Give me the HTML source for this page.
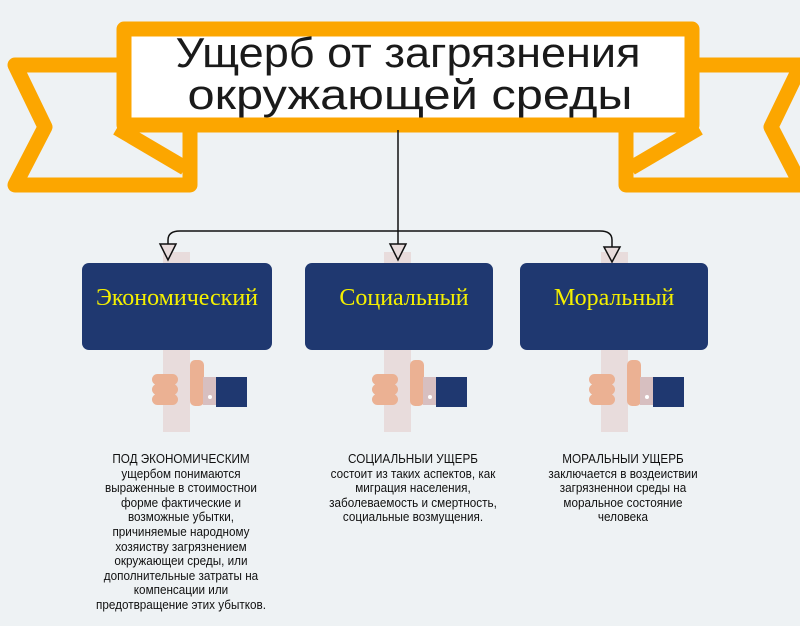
<!DOCTYPE html>
<html><head><meta charset="utf-8"><style>
body{margin:0;width:800px;height:626px;overflow:hidden;background:#eef2f4;}
svg{position:absolute;left:0;top:0}
.t{position:absolute;text-align:center;font-family:"Liberation Sans Narrow","Liberation Sans",sans-serif;font-size:13px;line-height:14.6px;color:#111;transform:scaleX(0.9);}
</style></head><body>
<svg width="800" height="626" viewBox="0 0 800 626">
<g fill="none" stroke="#fca600" stroke-width="15" stroke-linejoin="round">
<path d="M117,65 L15,65 L45,127 L15,185 L190,185 L190,130"/>
<path d="M117,128 L185,168"/>
<path d="M699,65 L801,65 L771,127 L801,185 L626,185 L626,130"/>
<path d="M699,128 L631,168"/>
</g>
<rect x="124" y="29" width="568" height="96" fill="#fff" stroke="#fca600" stroke-width="15" stroke-linejoin="round"/>
<text x="408" y="67" text-anchor="middle" font-family="Liberation Sans, sans-serif" font-size="42" fill="#1a1a1a" textLength="465" lengthAdjust="spacingAndGlyphs">Ущерб от загрязнения</text>
<text x="410" y="109" text-anchor="middle" font-family="Liberation Sans, sans-serif" font-size="42" fill="#1a1a1a" textLength="445" lengthAdjust="spacingAndGlyphs">окружающей среды</text>
<g fill="#e8dcdc">
<rect x="163" y="252" width="27" height="180"/>
<rect x="384" y="252" width="27" height="180"/>
<rect x="601" y="252" width="27" height="180"/>
</g>
<g fill="none" stroke="#111" stroke-width="1.5">
<path d="M398,130 L398,245"/>
<path d="M168,245 L168,240 Q168,231 180,231 L600,231 Q612,231 612,240 L612,247"/>
</g>
<g fill="#e8dcdc" stroke="#111" stroke-width="1.5">
<path d="M160,244 L176,244 L168,260 Z"/>
<path d="M390,244 L406,244 L398,260 Z"/>
<path d="M604,247 L620,247 L612,262 Z"/>
</g>
<g fill="#1f3870">
<rect x="82" y="263" width="190" height="87" rx="7"/>
<rect x="305" y="263" width="188" height="87" rx="7"/>
<rect x="520" y="263" width="188" height="87" rx="7"/>
</g>
<g font-family="Liberation Serif, serif" font-size="24" fill="#f4f000" text-anchor="middle">
<text x="177" y="305">Экономический</text>
<text x="404" y="305">Социальный</text>
<text x="614" y="305">Моральный</text>
</g>
<defs>
<g id="h">
<rect x="-25" y="374" width="26" height="11" rx="5.5" fill="#ebb193"/>
<rect x="-25" y="384" width="26" height="11" rx="5.5" fill="#ebb193"/>
<rect x="-25" y="394" width="26" height="11" rx="5.5" fill="#ebb193"/>
<rect x="13" y="360" width="14" height="46" rx="5" fill="#ebb193"/>
<rect x="26" y="377" width="14" height="28" fill="#d7bfc0"/>
<circle cx="33" cy="397" r="2" fill="#fff"/>
<rect x="39" y="377" width="31" height="30" fill="#1f3870"/>
</g>
</defs>
<use href="#h" x="177"/>
<use href="#h" x="397"/>
<use href="#h" x="614"/>
</svg>
<div class="t" style="left:81px;top:452px;width:200px;">ПОД ЭКОНОМИЧЕСКИМ<br>ущербом понимаются<br>выраженные в стоимостнои<br>форме фактические и<br>возможные убытки,<br>причиняемые народному<br>хозяиству загрязнением<br>окружающеи среды, или<br>дополнительные затраты на<br>компенсации или<br>предотвращение этих убытков.</div>
<div class="t" style="left:313px;top:452px;width:200px;">СОЦИАЛЬНЫИ УЩЕРБ<br>состоит из таких аспектов, как<br>миграция населения,<br>заболеваемость и смертность,<br>социальные возмущения.</div>
<div class="t" style="left:523px;top:452px;width:200px;">МОРАЛЬНЫИ УЩЕРБ<br>заключается в воздеиствии<br>загрязненнои среды на<br>моральное состояние<br>человека</div>
</body></html>
